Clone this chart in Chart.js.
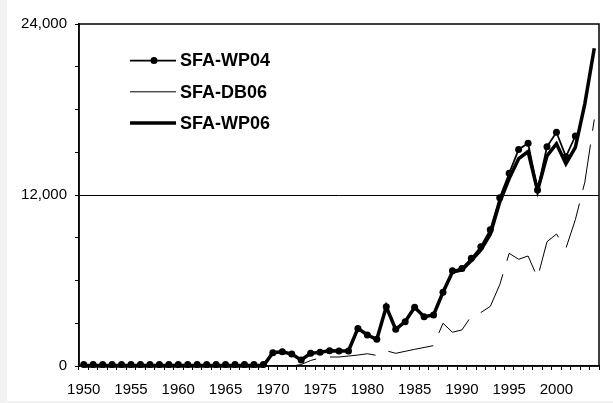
<!DOCTYPE html>
<html>
<head>
<meta charset="utf-8">
<script src="https://cdn.jsdelivr.net/npm/chart.js@4.4.1/dist/chart.umd.min.js"></script>
<style>
    html, body { margin: 0; padding: 0; background: #f2f2f2; }
    #wrap { position: absolute; left: 7px; top: 0; width: 606px; height: 401px; background: #fff; }
</style>
</head>
<body>
<div id="wrap"><canvas id="c" width="606" height="401"></canvas></div>
<script>
/* ── Data ───────────────────────────────────────────────────────────── */
const YEARS = [];
for (let y = 1950; y <= 2004; y++) YEARS.push(y);

const Y_TICK_LABELS = [0, 12000, 24000];

// 1950 … 2004
const WP04 = [
    100, 100, 100, 100, 100, 100, 100, 100, 100, 100,
    100, 100, 100, 100, 100, 100, 100, 100, 100, 100,
    930, 1000, 840, 420, 890, 960, 1070, 1050, 1050, 2640,
    2175, 1870, 4160, 2575, 3110, 4120, 3460, 3580, 5170, 6690,
    6850, 7560, 8370, 9560, 11810, 13520, 15200, 15630, 12350, 15390,
    16400, 14690, 16140, null, null,
];

const DB06 = [
    0, 0, 0, 0, 0, 0, 0, 0, 0, 0,
    0, 0, 0, 0, 0, 0, 0, 0, 0, 0,
    0, 0, 0, 100, 390, 560, 630, 630, 700, 770,
    860, 740, 1070, 890, 1030, 1170, 1300, 1430, 3000, 2370,
    2530, 3500, 3750, 4180, 5700, 7910, 7490, 7720, 6200, 8720,
    9260, 8260, 10270, 12900, 17300,
];

const WP06 = [
    0, 0, 0, 0, 0, 0, 0, 0, 0, 0,
    0, 0, 0, 0, 0, 0, 0, 0, 0, 0,
    930, 1000, 840, 420, 890, 960, 1070, 1050, 1050, 2640,
    2175, 1870, 4160, 2575, 3110, 4120, 3460, 3580, 5170, 6600,
    6750, 7400, 8150, 9250, 11500, 13150, 14550, 15050, 12300, 14750,
    15600, 14200, 15350, 18400, 22300,
];

/* ── Fonts ──────────────────────────────────────────────────────────── */
Chart.defaults.font.family = "'Liberation Sans', Arial, sans-serif";
Chart.defaults.color = '#000';

/* ── Inline legend + plot frame ─────────────────────────────────────── */
const frame = {
    id: 'frame',
    beforeDatasetsDraw(chart) {
        const { ctx, chartArea: a } = chart;
        ctx.save();
        ctx.strokeStyle = '#000';
        ctx.lineWidth = 1.5;
        ctx.strokeRect(a.left, a.top, a.right - a.left, a.bottom - a.top);
        ctx.restore();
    },
};

const boxLegend = {
    id: 'boxLegend',
    afterDraw(chart) {
        const { ctx } = chart;
        ctx.save();
        chart.data.datasets.forEach((ds, i) => {
            const y = 60.5 + i * 31.3;
            ctx.strokeStyle = '#000';
            ctx.lineWidth = ds.borderWidth;
            ctx.beginPath();
            ctx.moveTo(123, y);
            ctx.lineTo(169, y);
            ctx.stroke();
            if (ds.pointRadius) {
                ctx.fillStyle = '#000';
                ctx.beginPath();
                ctx.arc(147, y, 3.5, 0, Math.PI * 2);
                ctx.fill();
            }
            ctx.fillStyle = '#000';
            ctx.font = "bold 18px 'Liberation Sans', Arial, sans-serif";
            ctx.textBaseline = 'middle';
            ctx.fillText(ds.label, 173, y + 1);
        });
        ctx.restore();
    },
};

/* ── Chart ──────────────────────────────────────────────────────────── */
new Chart(document.getElementById('c'), {
    type: 'line',
    data: {
        labels: YEARS,
        datasets: [
            {
                label: 'SFA-WP04',
                data: WP04,
                borderColor: '#000',
                borderWidth: 1.75,
                pointRadius: 3.5,
                pointBackgroundColor: '#000',
                pointBorderWidth: 0,
                clip: false,
            },
            {
                label: 'SFA-DB06',
                data: DB06,
                borderColor: '#000',
                borderWidth: 1,
                borderDash: [46, 14],
                borderDashOffset: 52.5,
                pointRadius: 0,
            },
            {
                label: 'SFA-WP06',
                data: WP06,
                borderColor: '#000',
                borderWidth: 3.5,
                pointRadius: 0,
                clip: false,
            },
        ],
    },
    options: {
        responsive: false,
        animation: false,
        layout: { padding: { top: 24, right: 14, left: 0, bottom: 0 } },
        plugins: { legend: { display: false }, tooltip: { enabled: false } },
        elements: { line: { tension: 0 } },
        scales: {
            x: {
                offset: true,
                grid: { offset: true, drawOnChartArea: false, drawTicks: true, tickLength: 4, color: '#000' },
                border: { display: true, color: '#000', width: 1.5 },
                ticks: {
                    autoSkip: false, maxRotation: 0, minRotation: 0, padding: 11,
                    font: { size: 15 },
                    callback(v, i) { return YEARS[i] % 5 === 0 ? String(YEARS[i]) : ''; },
                },
                afterFit(s) { s.height = 35; },
            },
            y: {
                min: 0, max: 24000,
                grid: {
                    color: c => (c.tick && c.tick.value === 12000 ? '#000' : 'rgba(0,0,0,0)'),
                    tickColor: '#000', tickLength: 4, drawTicks: true,
                },
                border: { display: true, color: '#000', width: 1.5 },
                ticks: {
                    stepSize: 3000, padding: 8,
                    font: { size: 15 },
                    callback: v => (Y_TICK_LABELS.includes(v) ? v.toLocaleString('en-US') : ''),
                },
                afterFit(s) { s.width = 72; },
            },
        },
    },
    plugins: [frame, boxLegend],
});
</script>
</body>
</html>
